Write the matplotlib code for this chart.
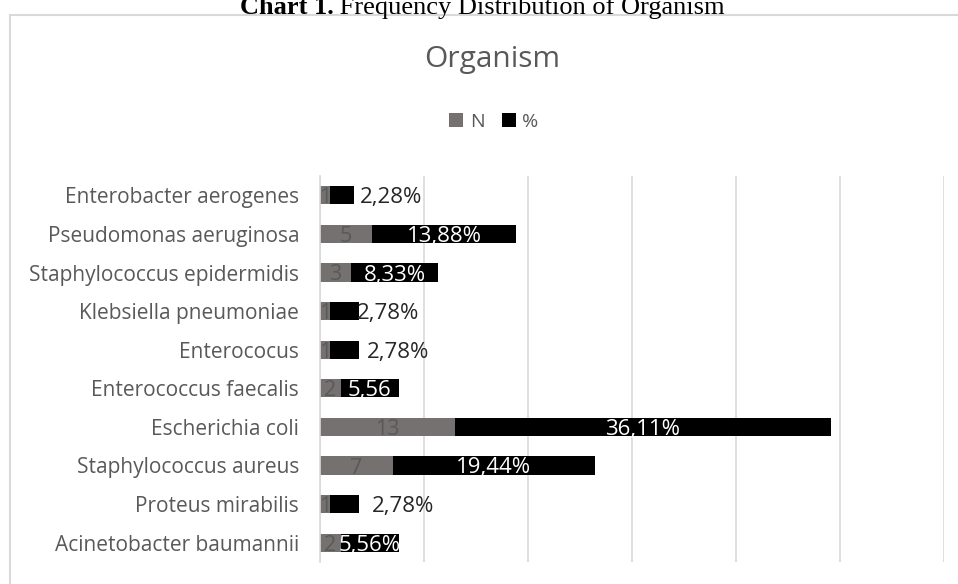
import matplotlib.pyplot as plt

# datos del grafico (de abajo hacia arriba)
organisms = ["Acinetobacter baumannii", "Proteus mirabilis", "Staphylococcus aureus",
             "Escherichia coli", "Enterococcus faecalis", "Enterococus",
             "Klebsiella pneumoniae", "Staphylococcus epidermidis",
             "Pseudomonas aeruginosa", "Enterobacter aerogenes"]
n_values = [2, 1, 7, 13, 2, 1, 1, 3, 5, 1]
pct_values = [5.56, 2.78, 19.44, 36.11, 5.56, 2.78, 2.78, 8.33, 13.88, 2.28]
pct_labels = ["5,56%", "2,78%", "19,44%", "36,11%", "5,56", "2,78%", "2,78%",
              "8,33%", "13,88%", "2,28%"]
# desplazamiento de las etiquetas pequenas (fuera de la barra)
label_shift = [0, 5.6, 0, 0, 0, 5.1, 4.2, 0, 0, 4.7]

GRAY = "#767171"
TEXT = "#595959"
FONT = ["Open Sans", "DejaVu Sans"]
W, H = 958, 584

fig = plt.figure(figsize=(W / 100, H / 100), dpi=100)

# marco del grafico
frame = plt.Rectangle((9.5 / W, -0.05), 1.1, 1 - 14.5 / H + 0.05,
                      transform=fig.transFigure, fill=False,
                      edgecolor="#d9d9d9", linewidth=1.5)
fig.patches.append(frame)

# titulo de la figura (Times)
t2 = fig.text(725 / W, 1 - 14 / H, " Frequency Distribution of Organism", ha="right",
              va="baseline", fontsize=19, family="Liberation Serif")
fig.canvas.draw()
x0 = t2.get_window_extent().x0
fig.text(x0 / W, 1 - 14 / H, "Chart 1.", ha="right", va="baseline", fontsize=19,
         fontweight="bold", family="Liberation Serif")

ax = fig.add_axes([320 / W, 1 - 562 / H, 624 / W, 386 / H])

y = list(range(len(organisms)))
ax.barh(y, n_values, height=0.47, color=GRAY, label="N")
ax.barh(y, pct_values, left=n_values, height=0.47, color="black", label="%")

for i in y:
    ax.text(n_values[i] / 2, i, str(n_values[i]), ha="center", va="center_baseline",
            color=TEXT, fontsize=15.5, family=FONT)
    cx = n_values[i] + pct_values[i] / 2 + label_shift[i]
    col = "#262626" if label_shift[i] else "white"
    ax.text(cx, i, pct_labels[i], ha="center", va="center_baseline", color=col,
            fontsize=16, family=FONT)

ax.set_xlim(0, 60)
ax.set_ylim(-0.5, 9.5)
ax.set_xticks(range(0, 61, 10))
ax.set_xticklabels([])
ax.tick_params(axis="x", length=0)
ax.tick_params(axis="y", length=0, pad=15)
ax.set_yticks(y)
ax.set_yticklabels(organisms, color=TEXT, fontsize=15, family=FONT)
ax.grid(axis="x", color="#d9d9d9", linewidth=1.2)
ax.set_axisbelow(True)
for s in ["top", "right", "bottom"]:
    ax.spines[s].set_visible(False)
ax.spines["left"].set_color("#d9d9d9")
ax.spines["left"].set_linewidth(1.2)

fig.text(492 / W, 1 - 60 / H, "Organism", ha="center", va="center",
         color=TEXT, fontsize=21.5, family=FONT)
fig.legend(loc="center", bbox_to_anchor=(494 / W, 1 - 122 / H), ncol=2,
           frameon=False, prop={"family": FONT, "size": 14}, labelcolor=TEXT,
           handlelength=0.7, handleheight=0.7, handletextpad=0.35,
           columnspacing=0.9)

fig.savefig("out.png", dpi=100)
